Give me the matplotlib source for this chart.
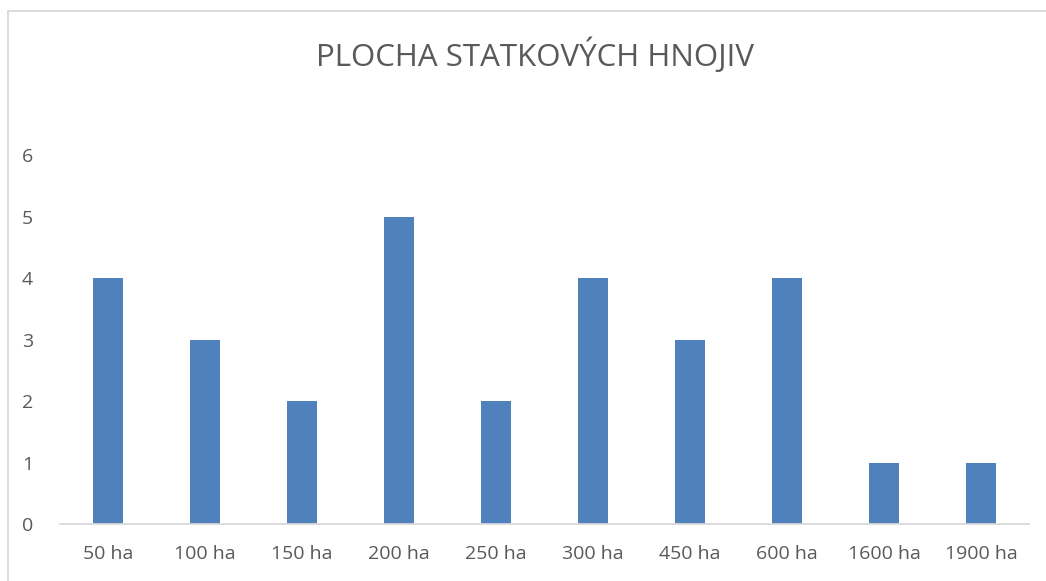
import matplotlib.pyplot as plt
from matplotlib.lines import Line2D

categories = ["50 ha", "100 ha", "150 ha", "200 ha", "250 ha", "300 ha",
              "450 ha", "600 ha", "1600 ha", "1900 ha"]
values = [4, 3, 2, 5, 2, 4, 3, 4, 1, 1]

plt.rcParams['font.family'] = ['Open Sans', 'DejaVu Sans']
gray = "#595959"

fig = plt.figure(figsize=(10.46, 5.81), dpi=100)
ax = fig.add_axes([0.0569, 0.0981, 0.9273, 0.6351])

x = range(len(categories))
ax.bar(x, values, width=0.31, color="#4f81bd")

ax.set_xlim(-0.5, len(categories) - 0.5)
ax.set_ylim(0, 6)
ax.set_xticks(list(x))
ax.set_xticklabels(categories, fontsize=14, color=gray)
ax.set_yticks(range(0, 7))
ax.set_yticklabels([str(i) for i in range(0, 7)], fontsize=14, color=gray)
ax.tick_params(axis='both', length=0)
ax.tick_params(axis='x', pad=15)
ax.tick_params(axis='y', pad=19)

for s in ["top", "right", "left"]:
    ax.spines[s].set_visible(False)
ax.spines["bottom"].set_color("#d9d9d9")
ax.spines["bottom"].set_linewidth(1.3)

fig.text(0.511, 0.905, "PLOCHA STATKOVÝCH HNOJIV", ha="center", va="center",
         fontsize=22.5, color=gray)

# chart border (only top and left visible in the crop)
W, H = 1046, 581
fig.add_artist(Line2D([7.5 / W, 7.5 / W], [0, 1 - 11 / H], transform=fig.transFigure,
                      color="#d9d9d9", lw=1.3))
fig.add_artist(Line2D([7.5 / W, 1], [1 - 11 / H, 1 - 11 / H], transform=fig.transFigure,
                      color="#d9d9d9", lw=1.3))

fig.savefig("out.png", dpi=100)
